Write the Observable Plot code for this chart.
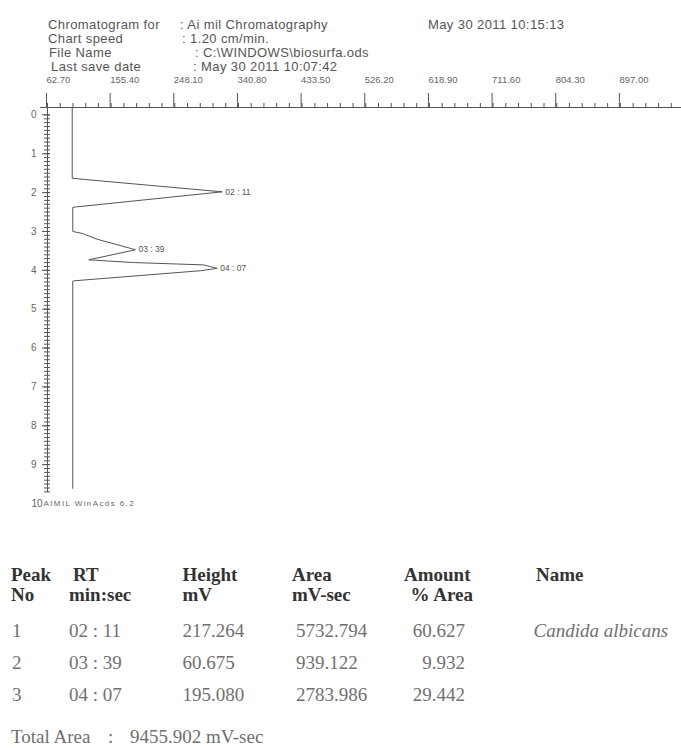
<!DOCTYPE html>
<html><head><meta charset="utf-8">
<script src="https://cdn.jsdelivr.net/npm/d3@7"></script>
<script src="https://cdn.jsdelivr.net/npm/@observablehq/plot@0.6"></script>
<style>
body{margin:0;background:#fff;}
#page{position:relative;width:681px;height:748px;overflow:hidden;background:#fff;}
.t{position:absolute;white-space:pre;line-height:1;transform:translateY(-50%);}
.hd{font-family:"Liberation Sans",Arial,sans-serif;font-size:13px;letter-spacing:0.4px;color:#555;}
.tb{font-family:"Liberation Serif","Times New Roman",serif;font-size:19px;color:#707070;}
.tb.b{font-weight:bold;color:#333;}
.tb.i{font-style:italic;}
#chart{position:absolute;left:0;top:60px;}
</style></head><body><div id="page"><div id="chart"></div></div>
<script>
// ---- header texts ----
const headerLabels = ["Chromatogram for", "Chart speed", "File Name", "Last save date"];
const headerValues = [": Ai mil Chromatography", ": 1.20 cm/min.", ": C:\\WINDOWS\\biosurfa.ods", ": May 30 2011 10:07:42"];
const printDate = "May 30 2011 10:15:13";

// ---- axis tick labels ----
const mvTicks = [62.70, 155.40, 248.10, 340.80, 433.50, 526.20, 618.90, 711.60, 804.30, 897.00];
const minTicks = [0, 1, 2, 3, 4, 5, 6, 7, 8, 9];
const lastMinLabel = "10";
const footer = "AIMIL WinAcds 6.2";

// ---- trace (mV, min) ----
const traceMv  = [98.7, 98.7, 115.6, 317.1, 103.5, 99.5, 99.5, 113.2, 135.0, 190.9, 122.8, 188.0, 289.9, 309.8, 285.5, 101.0, 99.5, 99.5];
const traceMin = [-0.19, 1.63, 1.66, 1.98, 2.37, 2.38, 3.00, 3.05, 3.20, 3.47, 3.73, 3.80, 3.86, 3.95, 4.01, 4.27, 4.28, 9.61];

// ---- peak apexes ----
const peakMv  = [317.1, 190.9, 309.8];
const peakMin = [1.98, 3.47, 3.95];

// ---- peak table ----
const peakNo     = ["1", "2", "3"];
const peakRT     = ["02 : 11", "03 : 39", "04 : 07"];
const peakHeight = ["217.264", "60.675", "195.080"];
const peakArea   = ["5732.794", "939.122", "2783.986"];
const peakAmount = ["60.627", "9.932", "29.442"];
const peakName   = ["Candida albicans", "", ""];
const totalArea  = "9455.902";

const page = document.getElementById("page");
function place(text, x, y, cls, align) {
  const d = document.createElement("div");
  d.className = "t " + cls;
  d.textContent = text;
  d.style.top = y + "px";
  if (align === "right") { d.style.right = (681 - x) + "px"; } else { d.style.left = x + "px"; }
  page.appendChild(d);
  return d;
}

// header
const hdY = [24, 38, 52, 66];
const hdLX = [48, 48, 49, 51];
const hdVX = [180, 182, 195, 193];
headerLabels.forEach((s, i) => place(s, hdLX[i], hdY[i], "hd"));
headerValues.forEach((s, i) => place(s, hdVX[i], hdY[i], "hd"));
place(printDate, 428, hdY[0], "hd");

// chart
const trace = traceMv.map((mv, i) => ({mv, min: traceMin[i]}));
const peaks = peakMv.map((mv, i) => ({mv, min: peakMin[i], label: peakRT[i]}));
const mvStep = mvTicks[1] - mvTicks[0];
const minorMv = d3.range(0, 50).map(i => mvTicks[0] + i * mvStep / 5).filter(v => v < 986);
const minorMin = d3.range(0, 98).map(i => i / 10);
const ink = "#555";

const chart = Plot.plot({
  width: 681,
  height: 470,
  marginTop: 47, marginLeft: 47, marginRight: 0, marginBottom: 27,
  x: {domain: [mvTicks[0], 986], axis: null},
  y: {domain: [-0.19, 10], reverse: true, axis: null},
  style: {background: "transparent", color: ink, fontFamily: "'Liberation Sans', Arial, sans-serif", overflow: "visible"},
  marks: [
    Plot.ruleY([-0.19], {insetLeft: -7, stroke: ink, strokeWidth: 1}),
    Plot.ruleX([mvTicks[0]], {y1: -0.19, y2: 9.72, stroke: ink, strokeWidth: 1}),
    Plot.axisX({anchor: "top", label: null, ticks: minorMv, tickSize: 5, tickFormat: () => "", stroke: ink}),
    Plot.axisX({anchor: "top", label: null, ticks: mvTicks, tickSize: 15, tickPadding: 10, tickFormat: d => d.toFixed(2), textAnchor: "start", dx: -1, fontSize: 9.5, stroke: ink, fill: "#666"}),
    Plot.axisY({anchor: "left", label: null, ticks: minorMin, tickSize: 6, dx: 3, tickFormat: () => "", stroke: ink}),
    Plot.axisY({anchor: "left", label: null, ticks: minTicks, tickSize: 8, dx: 3, tickPadding: 6, fontSize: 10, stroke: ink, fill: "#666"}),
    Plot.line(trace, {x: "mv", y: "min", stroke: ink, strokeWidth: 1}),
    Plot.text(peaks, {x: "mv", y: "min", text: "label", dx: 3, textAnchor: "start", fontSize: 8.5, fill: "#555"}),
    Plot.text([lastMinLabel], {y: () => 10, frameAnchor: "left", text: d => d, dx: -5, textAnchor: "end", fontSize: 10, fill: "#666"}),
    Plot.text([footer], {y: () => 10, frameAnchor: "left", text: d => d, dx: -4, textAnchor: "start", fontSize: 8, fill: "#666"})
  ]
});
document.getElementById("chart").appendChild(chart);
d3.select(chart).selectAll("text").filter(function() { return this.textContent === footer; })
  .style("letter-spacing", "1.4px");

// table
const colX = {no: 11, rt: 69, height: 182.5, area: 296, amount: 465, name: 536};
const thY1 = 574, thY2 = 594;
place("Peak", colX.no, thY1, "tb b");
place("RT", 73, thY1, "tb b");
place("Height", colX.height, thY1, "tb b");
place("Area", 292, thY1, "tb b");
place("Amount", 404, thY1, "tb b");
place("Name", colX.name, thY1, "tb b");
place("No", colX.no, thY2, "tb b");
place("min:sec", colX.rt, thY2, "tb b");
place("mV", colX.height, thY2, "tb b");
place("mV-sec", 292, thY2, "tb b");
place("% Area", 410.5, thY2, "tb b");

const rowY = [630, 662, 694];
peakNo.forEach((s, i) => {
  place(s, colX.no + 1, rowY[i], "tb");
  place(peakRT[i], colX.rt, rowY[i], "tb");
  place(peakHeight[i], colX.height, rowY[i], "tb");
  place(peakArea[i], colX.area, rowY[i], "tb");
  place(peakAmount[i], colX.amount, rowY[i], "tb", "right");
  if (peakName[i]) place(peakName[i], 533.5, rowY[i], "tb i");
});
place("Total Area", 11, 736, "tb");
place(":", 108, 736, "tb");
place(totalArea + " mV-sec", 130, 736, "tb");
</script></body></html>
